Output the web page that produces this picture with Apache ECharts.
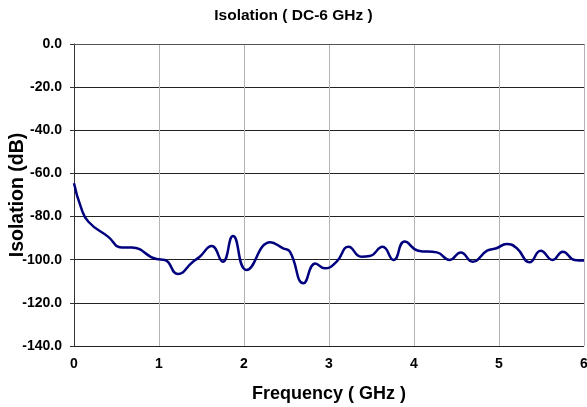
<!DOCTYPE html>
<html>
<head>
<meta charset="utf-8">
<script src="https://cdn.jsdelivr.net/npm/echarts@6/dist/echarts.min.js"></script>
<style>html,body{margin:0;padding:0;background:#fff;}#c{width:587px;height:407px;}</style>
</head>
<body>
<div id="c"></div>
<script>
var titleText = "Isolation ( DC-6 GHz )";
var xAxisName = "Frequency ( GHz )";
var yAxisName = "Isolation (dB)";
var xTicks = [0, 1, 2, 3, 4, 5, 6];
var yTicks = [0, -20, -40, -60, -80, -100, -120, -140];
var freq = [0.00, 0.08, 0.17, 0.40, 0.56, 0.68, 0.97, 1.07, 1.22, 1.40, 1.48, 1.62, 1.75, 1.87, 2.03, 2.31, 2.46, 2.54, 2.70, 2.84, 2.95, 3.09, 3.23, 3.38, 3.48, 3.63, 3.76, 3.89, 4.05, 4.27, 4.42, 4.55, 4.69, 4.86, 4.97, 5.09, 5.21, 5.36, 5.49, 5.63, 5.75, 5.89, 6.00];
var isolation = [-64.6, -75.5, -82.4, -89.3, -94.3, -94.3, -99.7, -100.1, -106.6, -100.9, -98.6, -93.6, -100.9, -89.0, -104.8, -91.9, -94.7, -96.3, -110.9, -101.7, -104.0, -100.9, -94.0, -98.6, -98.3, -94.0, -100.1, -91.6, -95.8, -96.6, -100.1, -96.6, -100.9, -95.8, -94.7, -92.7, -94.7, -101.2, -95.8, -100.1, -96.3, -100.1, -100.4];

var data = freq.map(function (f, i) { return [f, isolation[i]]; });
var chart = echarts.init(document.getElementById('c'), null, {renderer: 'canvas'});
var font = 'Liberation Sans, Arial, sans-serif';
chart.setOption({
  animation: false,
  title: {
    text: titleText, left: 'center', top: 3,
    textStyle: {fontFamily: font, fontWeight: 'bold', fontSize: 15.5, color: '#000'}
  },
  grid: {left: 74, right: 3, top: 44, bottom: 61, containLabel: false, outerBoundsMode: 'none'},
  xAxis: {
    type: 'value', min: 0, max: 6, interval: 1,
    name: xAxisName, nameLocation: 'middle', nameGap: 39, nameMoveOverlap: false,
    nameTextStyle: {fontFamily: font, fontWeight: 'bold', fontSize: 18, color: '#000'},
    axisLine: {show: true, lineStyle: {color: '#555', width: 1}},
    axisTick: {show: false},
    axisLabel: {fontFamily: font, fontWeight: 'bold', fontSize: 14, color: '#000', margin: 11,
      formatter: function (v) { return xTicks.indexOf(v) >= 0 ? String(v) : ''; }},
    splitLine: {show: true, lineStyle: {color: '#b4b4b4', width: 1}}
  },
  yAxis: {
    type: 'value', min: -140, max: 0, interval: 20,
    name: yAxisName, nameLocation: 'middle', nameGap: 46, nameRotate: 90, nameMoveOverlap: false,
    nameTextStyle: {fontFamily: font, fontWeight: 'bold', fontSize: 19.5, color: '#000'},
    axisLine: {show: true, lineStyle: {color: '#333', width: 1}},
    axisTick: {show: true, length: 4, lineStyle: {color: '#333'}},
    axisLabel: {fontFamily: font, fontWeight: 'bold', fontSize: 14, color: '#000', margin: 12,
      formatter: function (v) { return yTicks.indexOf(v) >= 0 ? v.toFixed(1) : ''; }},
    splitLine: {show: true, lineStyle: {color: '#222', width: 1}}
  },
  series: [{
    type: 'line', data: data, smooth: 0.5, symbol: 'none',
    lineStyle: {color: '#00007f', width: 2.5}
  }]
});
</script>
</body>
</html>
